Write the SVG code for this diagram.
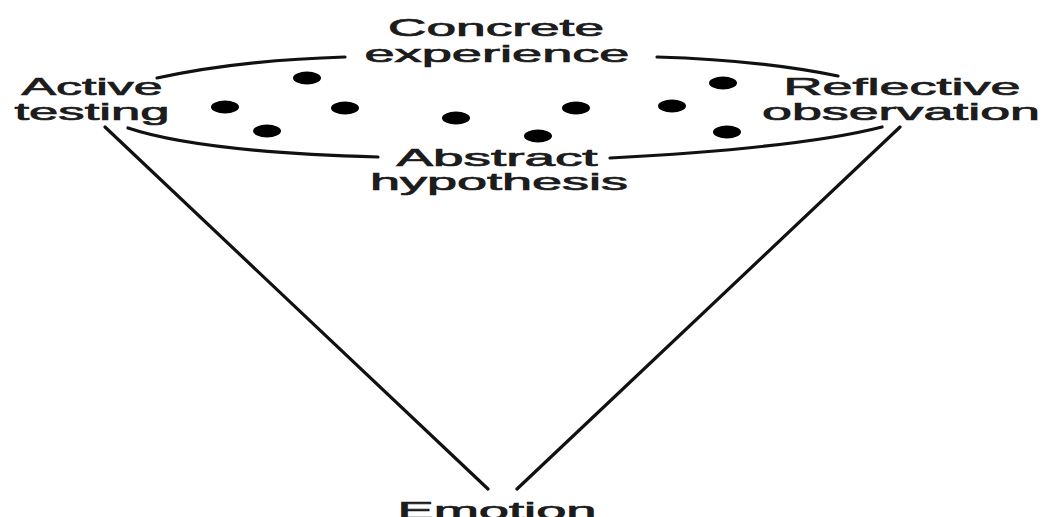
<svg xmlns="http://www.w3.org/2000/svg" width="1045" height="517" viewBox="0 0 1045 517">
<style>
.lbl{font-family:"Liberation Sans",Arial,sans-serif;font-size:24px;fill:#1c1c1c;stroke:#1c1c1c;stroke-width:0.7;text-anchor:middle}
.con{fill:none;stroke:#111;stroke-width:3.2;stroke-linecap:round}
.dot{fill:#000}
</style>
<rect width="1045" height="517" fill="#fff"/>
<g id="connectors">
<path class="con" d="M157,78 Q240,60 345,57"/>
<path class="con" d="M657,57 Q760,60 838,76"/>
<path class="con" d="M128,128 Q200,152 378,157"/>
<path class="con" d="M610,158 Q800,148 882,127"/>
<path class="con" d="M105,127 L488,489"/>
<path class="con" d="M900,127 L517,489"/>
</g>
<g id="concrete-experience">
<text class="lbl" x="496" y="36" textLength="216" lengthAdjust="spacingAndGlyphs">Concrete</text>
<text class="lbl" x="497" y="62" textLength="265" lengthAdjust="spacingAndGlyphs">experience</text>
</g>
<g id="active-testing">
<text class="lbl" x="92" y="95" textLength="141" lengthAdjust="spacingAndGlyphs">Active</text>
<text class="lbl" x="92" y="120" textLength="155" lengthAdjust="spacingAndGlyphs">testing</text>
</g>
<g id="reflective-observation">
<text class="lbl" x="902" y="95" textLength="237" lengthAdjust="spacingAndGlyphs">Reflective</text>
<text class="lbl" x="901" y="120" textLength="278" lengthAdjust="spacingAndGlyphs">observation</text>
</g>
<g id="abstract-hypothesis">
<text class="lbl" x="497" y="166" textLength="201" lengthAdjust="spacingAndGlyphs">Abstract</text>
<text class="lbl" x="499" y="190" textLength="258" lengthAdjust="spacingAndGlyphs">hypothesis</text>
</g>
<g id="emotion">
<text class="lbl" x="497" y="519" textLength="199" lengthAdjust="spacingAndGlyphs">Emotion</text>
</g>
<g id="dots">
<ellipse class="dot" cx="307" cy="78" rx="14" ry="6.5"/>
<ellipse class="dot" cx="225" cy="107" rx="14" ry="6.5"/>
<ellipse class="dot" cx="345" cy="108" rx="14" ry="6.5"/>
<ellipse class="dot" cx="267" cy="131" rx="14" ry="6.5"/>
<ellipse class="dot" cx="456" cy="118" rx="14" ry="6.5"/>
<ellipse class="dot" cx="538" cy="136" rx="14" ry="6.5"/>
<ellipse class="dot" cx="576" cy="108" rx="14" ry="6.5"/>
<ellipse class="dot" cx="672" cy="106" rx="14" ry="6.5"/>
<ellipse class="dot" cx="723" cy="83" rx="14" ry="6.5"/>
<ellipse class="dot" cx="727" cy="132" rx="14" ry="6.5"/>
</g>
</svg>
